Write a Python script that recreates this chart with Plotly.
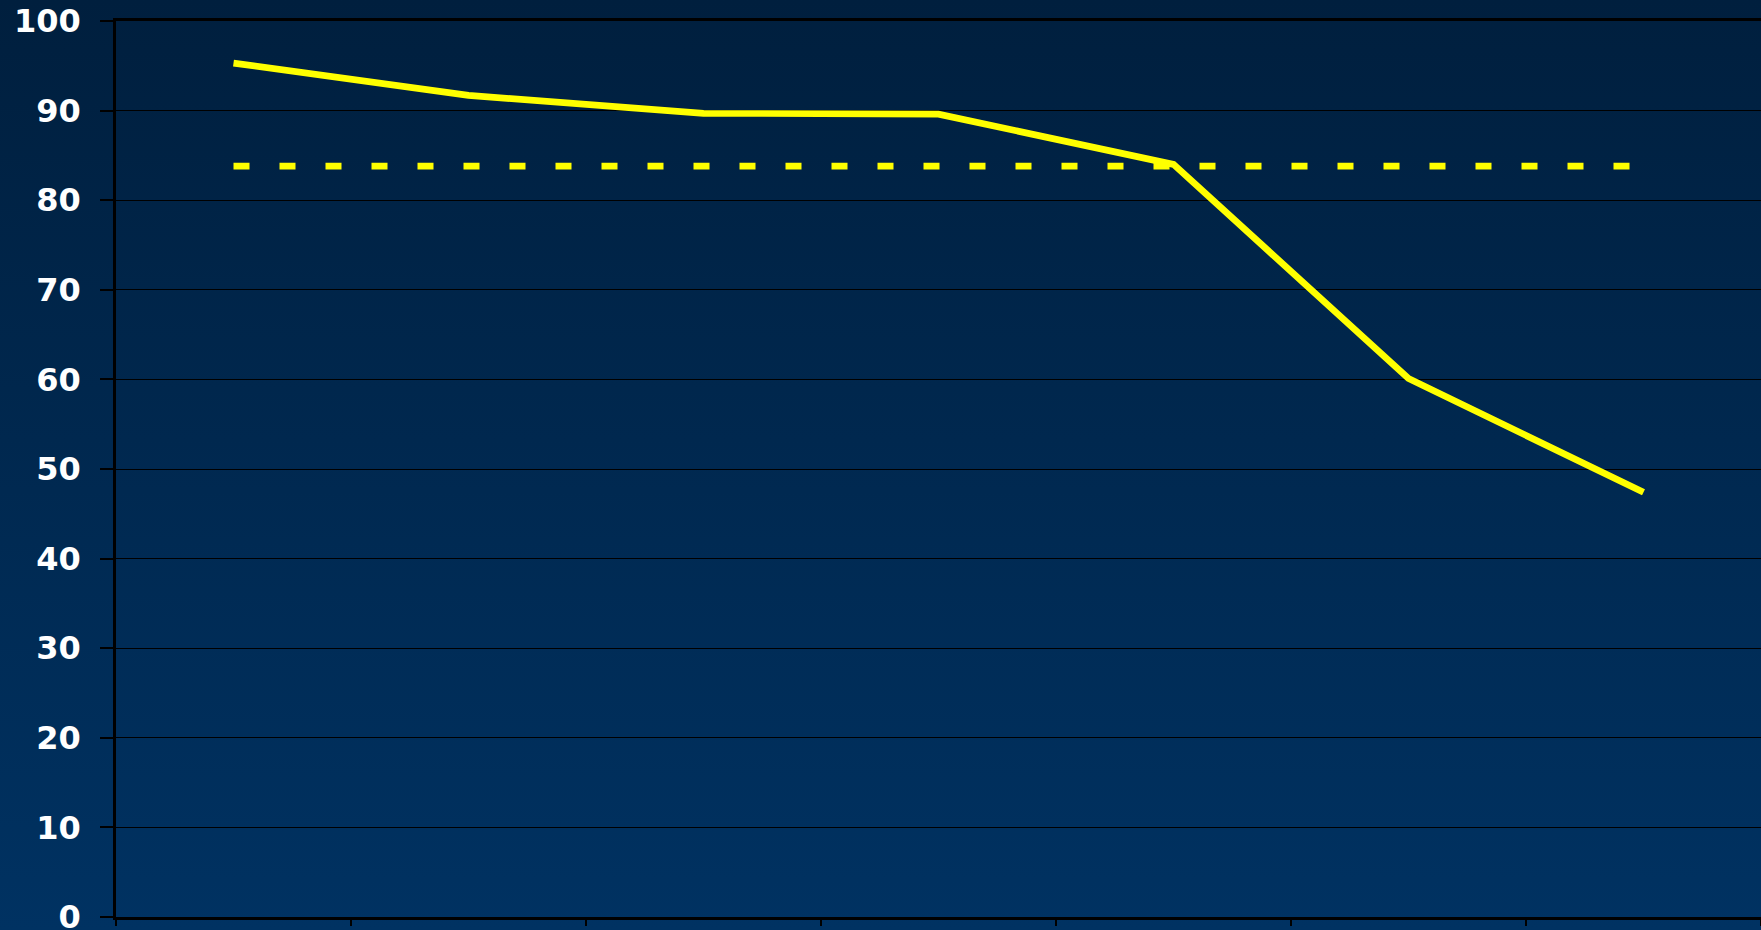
import base64
import plotly.graph_objects as go

categories = ["1", "2", "3", "4", "5", "6", "7"]
series_values = [95.3, 91.7, 89.7, 89.6, 84.0, 60.1, 47.4]
reference_values = [83.8, 83.8, 83.8, 83.8, 83.8, 83.8, 83.8]
y_tick_values = [0, 10, 20, 30, 40, 50, 60, 70, 80, 90, 100]
y_tick_labels = ["0", "10", "20", "30", "40", "50", "60", "70", "80", "90", "100"]

W, H = 1761, 930
ML, MR, MT, MB = 116, 0, 21, 13
pw, ph = W - ML - MR, H - MT - MB

svg = (
    '<svg xmlns="http://www.w3.org/2000/svg" width="100" height="100" preserveAspectRatio="none">'
    '<defs><linearGradient id="g" x1="0" y1="0" x2="0" y2="1">'
    '<stop offset="0" stop-color="#001f3e"/><stop offset="1" stop-color="#003262"/>'
    '</linearGradient></defs><rect width="100" height="100" fill="url(#g)"/></svg>'
)
src = "data:image/svg+xml;base64," + base64.b64encode(svg.encode()).decode()

fig = go.Figure()
fig.add_trace(go.Scatter(
    x=categories, y=reference_values, mode="lines",
    line=dict(color="#ffff00", width=6.7, dash="16px,30px"),
    hoverinfo="skip", showlegend=False,
))
fig.add_trace(go.Scatter(
    x=categories, y=series_values, mode="lines",
    line=dict(color="#ffff00", width=6.7),
    showlegend=False,
))

fig.update_layout(
    width=W, height=H,
    margin=dict(l=ML, r=MR, t=MT, b=MB, pad=0, autoexpand=False),
    paper_bgcolor="#002850",
    plot_bgcolor="rgba(0,0,0,0)",
    images=[dict(
        source=src, xref="paper", yref="paper",
        x=-ML / pw, y=1 + MT / ph, sizex=W / pw, sizey=H / ph,
        xanchor="left", yanchor="top", sizing="stretch", layer="below",
    )],
    xaxis=dict(
        type="category", range=[-0.5, 6.5], tickson="boundaries",
        showticklabels=False, showgrid=False, zeroline=False, automargin=False,
        showline=True, linecolor="#000000", linewidth=2.5, mirror=True,
        ticks="outside", ticklen=6, tickwidth=2, tickcolor="#000000",
    ),
    yaxis=dict(
        range=[0, 100], tickvals=y_tick_values, ticktext=y_tick_labels,
        showgrid=True, gridcolor="#000000", gridwidth=1.2, zeroline=False,
        automargin=False,
        showline=True, linecolor="#000000", linewidth=2.5,
        ticks="outside", ticklen=13, tickwidth=1.5, tickcolor="#000000",
        ticklabelstandoff=13, ticklabeloverflow="allow",
        tickfont=dict(family="DejaVu Sans", size=32, color="#ffffff", weight="bold"),
    ),
)

fig.write_html(
    "out.html",
    config={"displayModeBar": False},
    post_script="document.body.style.margin='0';document.body.style.padding='0';document.body.style.overflow='hidden';",
)
